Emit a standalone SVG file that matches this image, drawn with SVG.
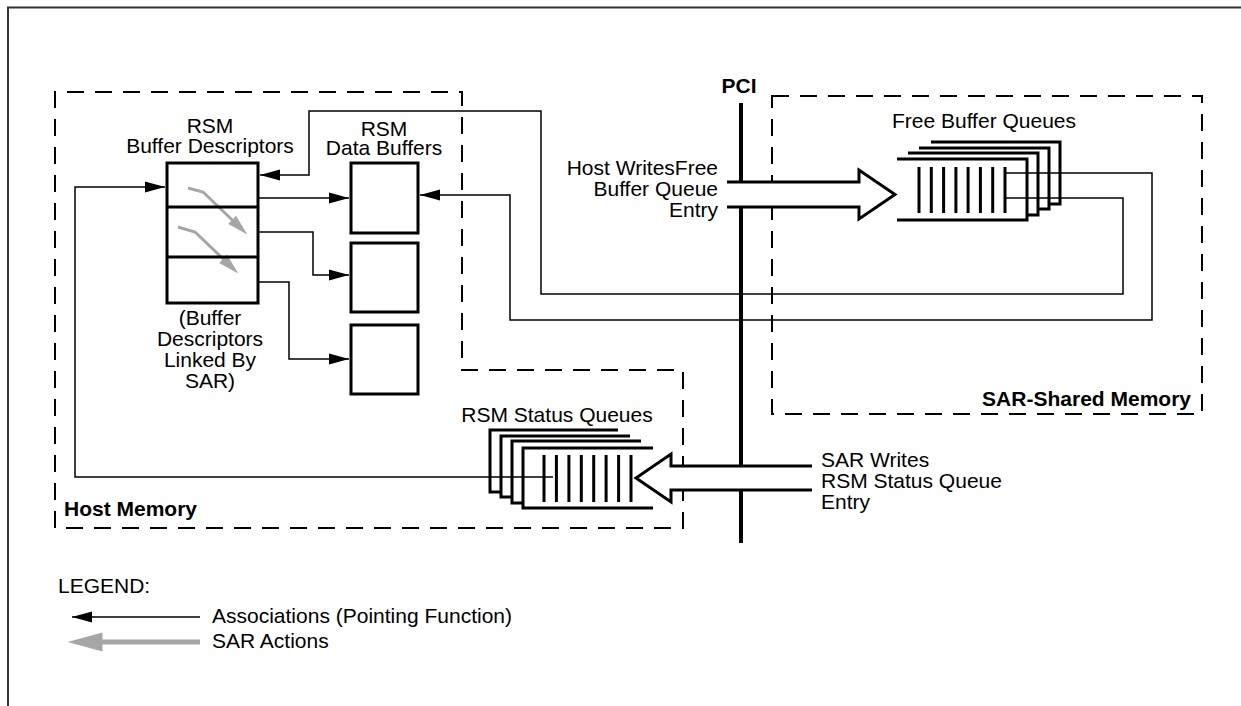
<svg xmlns="http://www.w3.org/2000/svg" width="1241" height="706" viewBox="0 0 1241 706">
<defs>
<style>
text{font-family:"Liberation Sans",Arial,sans-serif;font-size:21px;fill:#000}
.b{font-weight:bold}
.m{text-anchor:middle}
.e{text-anchor:end}
.dash{fill:none;stroke:#000;stroke-width:2;stroke-dasharray:17 11}
.box{fill:none;stroke:#000;stroke-width:3}
.q{fill:none;stroke:#000;stroke-width:3}
.bar{stroke:#000;stroke-width:3}
.thin{fill:none;stroke:#000;stroke-width:1.5}
.arr{marker-end:url(#ah)}
.gray{fill:none;stroke:#a6a6a6;stroke-width:3;marker-end:url(#gh)}
.hollow{fill:#fff;stroke:#000;stroke-width:3;stroke-linejoin:miter}
</style>
<marker id="ah" markerUnits="userSpaceOnUse" markerWidth="21" markerHeight="11" refX="20" refY="5.5" orient="auto" overflow="visible">
<path d="M0,0 L20,5.5 L0,11 Z" fill="#000"/>
</marker>
<marker id="gh" markerUnits="strokeWidth" markerWidth="7" markerHeight="4" refX="0.3" refY="1.9" orient="auto" overflow="visible">
<path d="M0,0 L7,1.9 L0,3.8 Z" fill="#a6a6a6"/>
</marker>
</defs>
<rect width="1241" height="706" fill="#fff"/>
<path d="M8,706 V7.5 H1241" fill="none" stroke="#333" stroke-width="2"/>

<g id="host-memory">
<path class="dash" d="M55,528 V92 H462 V370 H683 V528 Z"/>
<text class="b" x="64" y="516">Host Memory</text>
</g>

<g id="sar-shared-memory">
<rect class="dash" x="772" y="96" width="430" height="318"/>
<text class="b e" x="1191" y="406">SAR-Shared Memory</text>
</g>

<g id="pci">
<line x1="741" y1="103" x2="741" y2="543" stroke="#000" stroke-width="4"/>
<text class="b m" x="739" y="93">PCI</text>
</g>

<g id="connectors">
<path class="thin arr" d="M1006,198 H1123 V294 H541 V111 H309 V175 H260"/>
<path class="thin arr" d="M1006,173 H1152 V320 H510 V195 H420"/>
<path class="thin arr" d="M553,477 H75 V187 H165"/>
<path class="thin arr" d="M258,198 H349"/>
<path class="thin arr" d="M258,232 H313 V275 H349"/>
<path class="thin arr" d="M258,282 H289 V359 H349"/>
<path class="gray" d="M188,188 L203,192 L232.8,220.5"/>
<path class="gray" d="M178,227 L195,232 L223.8,259.5"/>
</g>

<g id="buffer-descriptors">
<text class="m" x="210" y="133">RSM</text>
<text class="m" x="210" y="153">Buffer Descriptors</text>
<rect class="box" x="167" y="163" width="91" height="140"/>
<line class="box" x1="167" y1="207" x2="258" y2="207"/>
<line class="box" x1="167" y1="257" x2="258" y2="257"/>
<text class="m" x="210" y="325">(Buffer</text>
<text class="m" x="210" y="346">Descriptors</text>
<text class="m" x="210" y="367">Linked By</text>
<text class="m" x="210" y="388">SAR)</text>
</g>

<g id="data-buffers">
<text class="m" x="384" y="136">RSM</text>
<text class="m" x="384" y="155">Data Buffers</text>
<rect class="box" x="351" y="163" width="67" height="70"/>
<rect class="box" x="351" y="243" width="67" height="69"/>
<rect class="box" x="351" y="325" width="67" height="69"/>
</g>

<g id="free-buffer-queues">
<text class="m" x="984" y="128">Free Buffer Queues</text>
<path class="q" d="M931,142 H1060 V204 H1049"/>
<path class="q" d="M919,148 H1049 V209 H1038"/>
<path class="q" d="M908,153 H1038 V215 H1027"/>
<path class="q" d="M897,159 H1027 V220 H897"/>
<g class="bar">
<line x1="919" y1="167" x2="919" y2="213"/>
<line x1="931.3" y1="167" x2="931.3" y2="213"/>
<line x1="943.6" y1="167" x2="943.6" y2="213"/>
<line x1="955.9" y1="167" x2="955.9" y2="213"/>
<line x1="968.1" y1="167" x2="968.1" y2="213"/>
<line x1="980.4" y1="167" x2="980.4" y2="213"/>
<line x1="992.7" y1="167" x2="992.7" y2="213"/>
<line x1="1005" y1="167" x2="1005" y2="213"/>
</g>
</g>

<g id="host-writes">
<path class="hollow" d="M727,182 H859 V170 L895,194.5 L859,219 V207 H727"/>
<text class="e" x="718" y="175">Host WritesFree</text>
<text class="e" x="718" y="196">Buffer Queue</text>
<text class="e" x="718" y="217">Entry</text>
</g>

<g id="rsm-status-queues">
<text class="m" x="557" y="422">RSM Status Queues</text>
<path class="q" d="M618,430 H490 V492 H501"/>
<path class="q" d="M630,436 H501 V497 H512"/>
<path class="q" d="M641,441 H512 V503 H523"/>
<path class="q" d="M653,448 H523 V508 H653"/>
<g class="bar">
<line x1="544" y1="455" x2="544" y2="502"/>
<line x1="556.4" y1="455" x2="556.4" y2="502"/>
<line x1="568.9" y1="455" x2="568.9" y2="502"/>
<line x1="581.3" y1="455" x2="581.3" y2="502"/>
<line x1="593.7" y1="455" x2="593.7" y2="502"/>
<line x1="606.1" y1="455" x2="606.1" y2="502"/>
<line x1="618.6" y1="455" x2="618.6" y2="502"/>
<line x1="631" y1="455" x2="631" y2="502"/>
</g>
</g>

<g id="sar-writes">
<path class="hollow" d="M812,466 H671 V454 L636,478 L671,502 V490 H812"/>
<text x="821" y="467">SAR Writes</text>
<text x="821" y="488">RSM Status Queue</text>
<text x="821" y="509">Entry</text>
</g>

<g id="legend">
<text x="58" y="593">LEGEND:</text>
<path class="thin arr" d="M200,617 H72"/>
<text x="212" y="623">Associations (Pointing Function)</text>
<path d="M200,642 H101" fill="none" stroke="#a6a6a6" stroke-width="5" marker-end="url(#gh)"/>
<text x="212" y="648">SAR Actions</text>
</g>
</svg>
